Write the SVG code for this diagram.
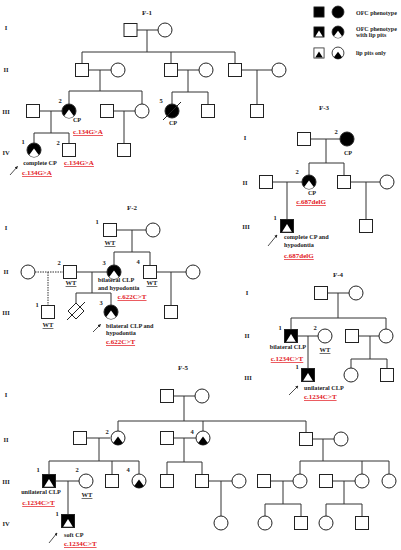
<svg xmlns="http://www.w3.org/2000/svg" xmlns:xlink="http://www.w3.org/1999/xlink" width="401" height="550" viewBox="0 0 401 550">
<style>
.ln{stroke:#333;stroke-width:1;fill:none}
.dt{stroke:#333;stroke-width:1;fill:none;stroke-dasharray:1.5 1}
.sh{stroke:#222;stroke-width:1}
.t{font-family:"Liberation Serif","Times New Roman",serif;font-weight:bold;fill:#222}
.ti{font-size:7px;text-anchor:middle}
.g{font-size:6.5px;text-anchor:middle}
.n{font-size:6.5px;text-anchor:middle}
.d{font-size:6.2px}
.m{text-anchor:middle}
.r{font-family:"Liberation Serif","Times New Roman",serif;font-weight:bold;fill:#e3161d;font-size:7px;text-decoration:underline}
.lg{font-size:6px}
.arr{stroke:#222;stroke-width:0.8;fill:none;marker-end:url(#ah)}
</style>
<defs>
<marker id="ah" viewBox="0 0 6 6" refX="5" refY="3" markerWidth="4" markerHeight="4" orient="auto"><path d="M0,0 L6,3 L0,6 Z" fill="#222"/></marker>
<g id="sq"><rect class="sh" x="-6.5" y="-6.5" width="13" height="13" fill="#fff"/></g>
<g id="ci"><circle class="sh" r="7" fill="#fff"/></g>
<g id="sqA"><rect class="sh" x="-6.5" y="-6.5" width="13" height="13" fill="#000"/></g>
<g id="ciA"><circle class="sh" r="7" fill="#000"/></g>
<g id="sqAP"><rect class="sh" x="-6.5" y="-6.5" width="13" height="13" fill="#000"/><path d="M0,-2 L4.8,5.8 L-4.8,5.8 Z" fill="#fff"/></g>
<g id="ciAP"><circle class="sh" r="7" fill="#000"/><path d="M0,-1.5 L4.8,5.1 A7,7 0 0 1 -4.8,5.1 Z" fill="#fff"/></g>
<g id="sqP"><rect class="sh" x="-6.5" y="-6.5" width="13" height="13" fill="#fff"/><path d="M0,-2 L4.8,5.8 L-4.8,5.8 Z" fill="#000"/></g>
<g id="ciP"><circle class="sh" r="7" fill="#fff"/><path d="M0,-1.5 L4.8,5.1 A7,7 0 0 1 -4.8,5.1 Z" fill="#000"/></g>
</defs>
<rect width="401" height="550" fill="#fff"/>

<!-- Legend -->
<g id="legend">
<use href="#sqA" transform="translate(319,12) scale(0.78)"/>
<use href="#ciA" transform="translate(338,12) scale(0.85)"/>
<text class="t lg" x="356" y="14.5">OFC phenotype</text>
<use href="#sqAP" transform="translate(319,32) scale(0.78)"/>
<use href="#ciAP" transform="translate(338,32) scale(0.85)"/>
<text class="t lg" x="356" y="30.5">OFC phenotype</text>
<text class="t lg" x="356" y="37">with lip pits</text>
<use href="#sqP" transform="translate(319,53) scale(0.78)"/>
<use href="#ciP" transform="translate(338,53) scale(0.85)"/>
<text class="t lg" x="356" y="54.5">lip pits only</text>
</g>

<!-- Titles and generation labels -->
<g id="labels">
<text class="t ti" x="147" y="15">F-1</text>
<text class="t g" x="6" y="30">I</text>
<text class="t g" x="6" y="72">II</text>
<text class="t g" x="6" y="114">III</text>
<text class="t g" x="6" y="155">IV</text>
<text class="t ti" x="324" y="110">F-3</text>
<text class="t g" x="245" y="140">I</text>
<text class="t g" x="245" y="185">II</text>
<text class="t g" x="246" y="229">III</text>
<text class="t ti" x="132" y="210">F-2</text>
<text class="t g" x="6" y="230">I</text>
<text class="t g" x="6" y="274">II</text>
<text class="t g" x="6" y="315">III</text>
<text class="t ti" x="338" y="277">F-4</text>
<text class="t g" x="247" y="295">I</text>
<text class="t g" x="247" y="338">II</text>
<text class="t g" x="248" y="380">III</text>
<text class="t ti" x="183" y="370">F-5</text>
<text class="t g" x="6" y="397">I</text>
<text class="t g" x="6" y="442">II</text>
<text class="t g" x="6" y="484">III</text>
<text class="t g" x="6" y="526">IV</text>
</g>

<!-- Connectors -->
<g id="connectors">
<path class="ln" d="M137,30H158M147,30V52M82,52H235M82,52V63.5M171,52V63.5M235,52V63.5
M88.5,70H111M100,70V91M69,91H142M69,91V104M142,91V104
M177.5,70H199M188,70V92M172,92H208M172,92V104M208,92V104.5
M241.5,70H272M257,70V104.5
M39.5,111H62M51,111V133M34,133H69M34,133V143M69,133V143.5
M113.5,111H135M124,111V143.5"/>
<path class="ln" d="M310.5,139H340M326,139V163M309,163H344M309,163V175M344,163V175.5
M272.5,182H302M287,182V219.5M350.5,182H380M366,182V219.5"/>
<path class="ln" d="M116.5,230H146M132,230V252M114,252H150M114,252V265M150,252V265.5
M76.5,272H107M92,272V293M76,293H111M76,293V303M111,293V305
M156.5,272H186M171,272V305.5"/>
<path class="dt" d="M35,272H63.5M48,272V305.5"/>
<path class="ln" d="M327.5,293H349M338,293V318M291,318H386M291,318V329.5M386,318V329
M297.5,336H318M308,336V368.5M358.5,336H379M370,336V359M351,359H387M351,359V368M387,359V368.5"/>
<path class="ln" d="M173.5,396H195M184,396V421M118,421H306M118,421V431M203,421V431M306,421V432.5
M86.5,438H110M99,438V461M49,461H139M49,461V474.5M112,461V474.5M139,461V474
M173.5,438H196M184,438V462M167,462H202M167,462V474.5M202,462V474.5
M312.5,439H334M323,439V461M300,461H389M300,461V474M362,461V474M389,461V474
M55.5,481H79M68,481V514.5M208.5,481H232M221,481V516
M270.5,481H293M283,481V504M265,504H301M265,504V516M301,504V516.5
M332.5,481H355M344,481V504M326,504H362M326,504V516M362,504V516.5"/>
<line class="arr" x1="10" y1="175" x2="17.5" y2="166.5"/>
<line class="arr" x1="268" y1="246" x2="277" y2="235"/>
<line class="arr" x1="93" y1="332" x2="100.5" y2="324.5"/>
<line class="arr" x1="289" y1="395" x2="298" y2="386"/>
<line class="arr" x1="49" y1="543" x2="57" y2="533"/>
</g>

<!-- F-1 nodes -->
<g id="f1-I-1"><use href="#sq" x="130.5" y="30"/></g>
<g id="f1-I-2"><use href="#ci" x="165" y="30"/></g>
<g id="f1-II-1"><use href="#sq" x="82" y="70"/></g>
<g id="f1-II-2"><use href="#ci" x="118" y="70"/></g>
<g id="f1-II-3"><use href="#sq" x="171" y="70"/></g>
<g id="f1-II-4"><use href="#ci" x="206" y="70"/></g>
<g id="f1-II-5"><use href="#sq" x="235" y="70"/></g>
<g id="f1-II-6"><use href="#ci" x="279" y="70"/></g>
<g id="f1-III-1"><use href="#sq" x="33" y="111"/></g>
<g id="f1-III-2"><use href="#ciAP" x="69" y="111"/><text class="t n" x="60" y="103">2</text><text class="t d m" x="77" y="122">CP</text><text class="r" x="88" y="134" text-anchor="middle">c.134G&gt;A</text></g>
<g id="f1-III-3"><use href="#sq" x="107" y="111"/></g>
<g id="f1-III-4"><use href="#ci" x="142" y="111"/></g>
<g id="f1-III-5"><use href="#ciA" x="172" y="111"/><line class="sh" x1="163" y1="120" x2="181" y2="102"/><text class="t n" x="161" y="103">5</text><text class="t d m" x="173" y="125">CP</text></g>
<g id="f1-III-6"><use href="#sq" x="208" y="111"/></g>
<g id="f1-III-7"><use href="#sq" x="257" y="111"/></g>
<g id="f1-IV-1"><use href="#ciAP" x="34" y="150"/><text class="t n" x="23" y="144">1</text><text class="t d m" x="40" y="165">complete CP</text><text class="r" x="37" y="175" text-anchor="middle">c.134G&gt;A</text></g>
<g id="f1-IV-2"><use href="#sq" x="69" y="150"/><text class="t n" x="58" y="145">2</text><text class="r" x="79" y="165" text-anchor="middle">c.134G&gt;A</text></g>
<g id="f1-IV-3"><use href="#sq" x="124" y="150"/></g>

<!-- F-3 nodes -->
<g id="f3-I-1"><use href="#sq" x="304" y="139"/></g>
<g id="f3-I-2"><use href="#ciA" x="347" y="139"/><text class="t n" x="336" y="134">2</text><text class="t d m" x="348" y="155">CP</text></g>
<g id="f3-II-1"><use href="#sq" x="266" y="182"/></g>
<g id="f3-II-2"><use href="#ciAP" x="309" y="182"/><text class="t n" x="297" y="174">2</text><text class="t d m" x="312" y="195">CP</text><text class="r" x="311" y="204" text-anchor="middle">c.687delG</text></g>
<g id="f3-II-3"><use href="#sq" x="344" y="182"/></g>
<g id="f3-II-4"><use href="#ci" x="387" y="182"/></g>
<g id="f3-III-1"><use href="#sqAP" x="287" y="226"/><text class="t n" x="275" y="220">1</text><text class="t d" x="284" y="239">complete CP and</text><text class="t d" x="284" y="247">hypodontia</text><text class="r" x="284" y="258">c.687delG</text></g>
<g id="f3-III-2"><use href="#sq" x="366" y="226"/></g>

<!-- F-2 nodes -->
<g id="f2-I-1"><use href="#sq" x="110" y="230"/><text class="t n" x="97" y="224">1</text><text class="t n" x="110" y="245" text-decoration="underline">WT</text></g>
<g id="f2-I-2"><use href="#ci" x="153" y="230"/></g>
<g id="f2-II-1"><use href="#ci" x="28" y="272"/></g>
<g id="f2-II-2"><use href="#sq" x="70" y="272"/><text class="t n" x="59" y="265">2</text><text class="t n" x="71" y="285" text-decoration="underline">WT</text></g>
<g id="f2-II-3"><use href="#ciAP" x="114" y="272"/><text class="t n" x="104" y="265">3</text><text class="t d" x="98" y="282">bilateral CLP</text><text class="t d" x="98" y="290">and hypodontia</text><text class="r" x="132" y="299" text-anchor="middle">c.622C&gt;T</text></g>
<g id="f2-II-4"><use href="#sq" x="150" y="272"/><text class="t n" x="138" y="264">4</text><text class="t n" x="152" y="285" text-decoration="underline">WT</text></g>
<g id="f2-II-5"><use href="#ci" x="193" y="272"/></g>
<g id="f2-III-1"><use href="#sq" x="48" y="312"/><text class="t n" x="37" y="307">1</text><text class="t n" x="48" y="327" text-decoration="underline">WT</text></g>
<g id="f2-III-2"><polygon class="sh" points="76,303 84,311 76,319 68,311" fill="#fff"/><line class="sh" x1="67" y1="320" x2="85" y2="302"/></g>
<g id="f2-III-3"><use href="#ciAP" x="111" y="312"/><text class="t n" x="101" y="305">3</text><text class="t d" x="106" y="328">bilateral CLP and</text><text class="t d" x="106" y="335">hypodontia</text><text class="r" x="106" y="344">c.622C&gt;T</text></g>
<g id="f2-III-4"><use href="#sq" x="171" y="312"/></g>

<!-- F-4 nodes -->
<g id="f4-I-1"><use href="#sq" x="321" y="293"/></g>
<g id="f4-I-2"><use href="#ci" x="356" y="293"/></g>
<g id="f4-II-1"><use href="#sqAP" x="291" y="336"/><text class="t n" x="280" y="330">1</text><text class="t d m" x="288" y="349">bilateral CLP</text><text class="r" x="287" y="361" text-anchor="middle">c.1234C&gt;T</text></g>
<g id="f4-II-2"><use href="#ci" x="325" y="336"/><text class="t n" x="315" y="330">2</text><text class="t n" x="325" y="352" text-decoration="underline">WT</text></g>
<g id="f4-II-3"><use href="#sq" x="352" y="336"/></g>
<g id="f4-II-4"><use href="#ci" x="386" y="336"/></g>
<g id="f4-III-1"><use href="#sqAP" x="308" y="375"/><text class="t n" x="297" y="369">1</text><text class="t d" x="304" y="390">unilateral CLP</text><text class="r" x="304" y="399">c.1234C&gt;T</text></g>
<g id="f4-III-2"><use href="#ci" x="351" y="375"/></g>
<g id="f4-III-3"><use href="#sq" x="387" y="375"/></g>

<!-- F-5 nodes -->
<g id="f5-I-1"><use href="#sq" x="167" y="396"/></g>
<g id="f5-I-2"><use href="#ci" x="202" y="396"/></g>
<g id="f5-II-1"><use href="#sq" x="80" y="438"/></g>
<g id="f5-II-2"><use href="#ciP" x="118" y="438"/><text class="t n" x="107" y="434">2</text></g>
<g id="f5-II-3"><use href="#sq" x="167" y="438"/></g>
<g id="f5-II-4"><use href="#ciP" x="203" y="438"/><text class="t n" x="192" y="434">4</text></g>
<g id="f5-II-5"><use href="#sq" x="306" y="439"/></g>
<g id="f5-II-6"><use href="#ci" x="341" y="439"/></g>
<g id="f5-III-1"><use href="#sqAP" x="49" y="481"/><text class="t n" x="38" y="472">1</text><text class="t d m" x="41" y="494">unilateral CLP</text><text class="r" x="38.5" y="505" text-anchor="middle">c.1234C&gt;T</text></g>
<g id="f5-III-2"><use href="#ci" x="86" y="481"/><text class="t n" x="77" y="472">2</text><text class="t n" x="87" y="497" text-decoration="underline">WT</text></g>
<g id="f5-III-3"><use href="#sq" x="112" y="481"/></g>
<g id="f5-III-4"><use href="#ciP" x="139" y="481"/><text class="t n" x="128" y="472">4</text></g>
<g id="f5-III-5"><use href="#sq" x="167" y="481"/></g>
<g id="f5-III-6"><use href="#sq" x="202" y="481"/></g>
<g id="f5-III-7"><use href="#ci" x="239" y="481"/></g>
<g id="f5-III-8"><use href="#sq" x="264" y="481"/></g>
<g id="f5-III-9"><use href="#ci" x="300" y="481"/></g>
<g id="f5-III-10"><use href="#sq" x="326" y="481"/></g>
<g id="f5-III-11"><use href="#ci" x="362" y="481"/></g>
<g id="f5-III-12"><use href="#ci" x="389" y="481"/></g>
<g id="f5-IV-1"><use href="#sqAP" x="68" y="521"/><text class="t n" x="57" y="516">1</text><text class="t d" x="64" y="537">soft CP</text><text class="r" x="64" y="546">c.1234C&gt;T</text></g>
<g id="f5-IV-2"><use href="#ci" x="221" y="523"/></g>
<g id="f5-IV-3"><use href="#ci" x="265" y="523"/></g>
<g id="f5-IV-4"><use href="#sq" x="301" y="523"/></g>
<g id="f5-IV-5"><use href="#ci" x="326" y="523"/></g>
<g id="f5-IV-6"><use href="#sq" x="362" y="523"/></g>
</svg>
